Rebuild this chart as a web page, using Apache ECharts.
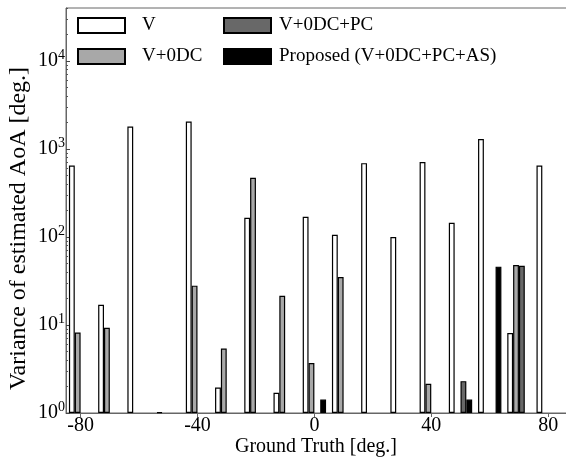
<!DOCTYPE html>
<html>
<head>
<meta charset="utf-8">
<script src="https://cdn.jsdelivr.net/npm/echarts@6/dist/echarts.min.js"></script>
<style>
  html, body { margin: 0; padding: 0; background: #fff; }
  #chart { width: 566px; height: 463px; }
</style>
</head>
<body>
<div id="chart"></div>
<script>
// Ground truth angles (deg.), one category per angle; the last empty one only pads the axis
const groundTruth = ['-80', '-70', '-60', '-50', '-40', '-30', '-20', '-10', '0', '10', '20', '30', '40', '50', '60', '70', '80', ''];

// Variance of estimated AoA per method (null = no bar)
const varV = [650, 17, 1800, 1.02, 2050, 1.95, 165, 1.7, 170, 106, 690, 100, 710, 145, 1300, 8.1, 650, null];
const varV0dc = [8.2, 9.3, null, null, 28, 5.4, 470, 21.5, 3.7, 35, null, null, 2.15, null, null, 48, null, null];
const varV0dcPc = [null, null, null, null, null, null, null, null, null, null, null, null, null, 2.3, null, 47, null, null];
const varProposed = [null, null, null, null, null, null, null, null, 1.42, null, null, null, null, 1.42, 46, null, null, null];

const seriesNames = ['V', 'V+0DC', 'V+0DC+PC', 'Proposed (V+0DC+PC+AS)'];
const seriesColors = ['#ffffff', '#a8a8a8', '#686868', '#000000'];

const xTickLabels = ['-80', '-40', '0', '40', '80'];
const yTicks = [1, 10, 100, 1000, 10000];
const yMinorTicks = [];
yTicks.forEach(d => {
    for (let k = 2; k <= 9; k++) {
        if (d * k <= 40000) yMinorTicks.push(d * k);
    }
});

const serif = "'Liberation Serif', 'DejaVu Serif', serif";
const axisGray = '#666';

const allValues = [varV, varV0dc, varV0dcPc, varProposed];

const chart = echarts.init(document.getElementById('chart'), null, { renderer: 'canvas' });

const legendBase = {
    orient: 'vertical',
    top: 16,
    padding: 0,
    itemWidth: 47,
    itemHeight: 15,
    itemGap: 12,
    icon: 'rect',
    textStyle: {
        fontFamily: serif,
        fontSize: 19,
        color: '#000'
    }
};

function showTick(index, value) {
    return xTickLabels.indexOf(value) >= 0;
}

const option = {
    animation: false,
    backgroundColor: '#fff',
    grid: {
        left: 66,
        top: 8,
        width: 526,
        height: 405,
        outerBoundsMode: 'none',
        show: true,
        borderColor: axisGray,
        borderWidth: 1,
        backgroundColor: 'transparent'
    },
    legend: [
        Object.assign({}, legendBase, {
            left: 77, data: ['V', 'V+0DC'],
            textStyle: Object.assign({}, legendBase.textStyle, { padding: [0, 0, 0, 12] })
        }),
        Object.assign({}, legendBase, {
            left: 223, data: ['V+0DC+PC', 'Proposed (V+0DC+PC+AS)'],
            textStyle: Object.assign({}, legendBase.textStyle, { padding: [0, 0, 0, 3] })
        })
    ],
    xAxis: {
        type: 'category',
        data: groundTruth,
        boundaryGap: true,
        name: 'Ground Truth [deg.]',
        nameLocation: 'middle',
        nameGap: 24,
        nameMoveOverlap: false,
        nameTextStyle: { fontFamily: serif, fontSize: 20, color: '#000', padding: [0, 26, 0, 0] },
        axisLine: { show: true, lineStyle: { color: axisGray, width: 1 } },
        axisTick: { show: true, length: 4, alignWithLabel: true, interval: showTick, lineStyle: { color: axisGray } },
        axisLabel: {
            interval: showTick,
            fontFamily: serif,
            fontSize: 20,
            color: '#000',
            margin: 3
        },
        splitLine: { show: false }
    },
    yAxis: [
        {
            type: 'log',
            logBase: 10,
            min: 1,
            max: 40000,
            name: 'Variance of estimated AoA [deg.]',
            nameLocation: 'middle',
            nameGap: 35,
            nameMoveOverlap: false,
            nameTextStyle: { fontFamily: serif, fontSize: 24, color: '#000', padding: [0, 36, 0, 0] },
            axisLine: { show: true, onZero: false, lineStyle: { color: axisGray, width: 1 } },
            axisTick: { show: true, inside: true, length: 4, customValues: yTicks, lineStyle: { color: '#444' } },
            minorTick: { show: false },
            axisLabel: {
                customValues: yTicks,
                margin: 1,
                formatter: function (v) {
                    return '{b|10}{e|' + Math.round(Math.log10(v)) + '}';
                },
                rich: {
                    b: { fontFamily: serif, fontSize: 20, color: '#000' },
                    e: { fontFamily: serif, fontSize: 14, color: '#000', padding: [0, 0, 12, 0] }
                }
            },
            splitLine: { show: false }
        },
        {
            type: 'log',
            logBase: 10,
            min: 1,
            max: 40000,
            position: 'left',
            axisLine: { show: false, onZero: false },
            axisTick: { show: true, inside: true, length: 2, customValues: yMinorTicks, lineStyle: { color: '#555' } },
            axisLabel: { show: false },
            splitLine: { show: false }
        }
    ],
    series: seriesNames.map((name, i) => ({
        name: name,
        type: 'bar',
        yAxisIndex: 0,
        barWidth: 5.84,
        barGap: '0%',
        data: allValues[i],
        itemStyle: {
            color: seriesColors[i],
            borderColor: '#000',
            borderWidth: 1.2
        }
    }))
};

chart.setOption(option);
</script>
</body>
</html>
